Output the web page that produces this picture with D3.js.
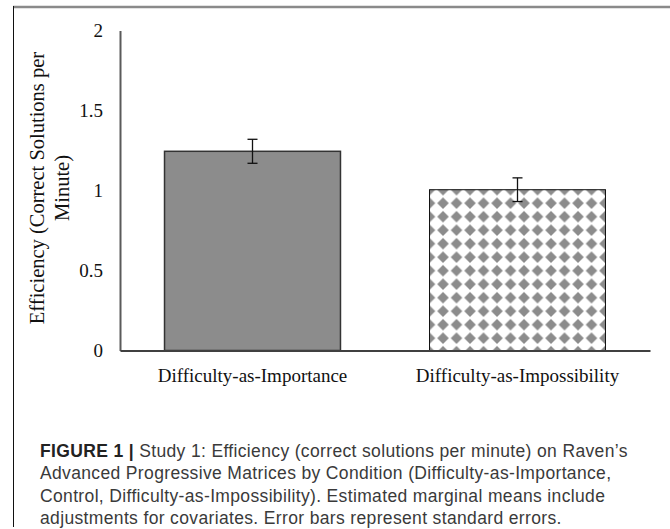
<!DOCTYPE html>
<html>
<head>
<meta charset="utf-8">
<script src="https://cdn.jsdelivr.net/npm/d3@7"></script>
<style>
  html, body { margin: 0; padding: 0; background: #fff; }
  svg { display: block; }
</style>
</head>
<body>
<svg id="chart" width="670" height="529"></svg>
<script>
// Chart data
var categories = ["Difficulty-as-Importance", "Difficulty-as-Impossibility"];
var means = [1.245, 1.005];
var stdErrors = [0.075, 0.074];
var yTicks = [0, 0.5, 1, 1.5, 2];
var yTitle = ["Efficiency (Correct Solutions per", "Minute)"];
var captionLines = [
    "Study 1: Efficiency (correct solutions per minute) on Raven\u2019s",
    "Advanced Progressive Matrices by Condition (Difficulty-as-Importance,",
    "Control, Difficulty-as-Impossibility). Estimated marginal means include",
    "adjustments for covariates. Error bars represent standard errors."
];

var svg = d3.select("#chart");
var serif = "'Liberation Serif', 'Times New Roman', serif";
var sans = "'Liberation Sans', Arial, Helvetica, sans-serif";
var barGray = "#8c8c8c";

// Frame: gray rule on top, thin line on the left
svg.append("line")
    .attr("x1", 13).attr("x2", 670)
    .attr("y1", 7).attr("y2", 7)
    .style("stroke", "#8a8a8a").attr("stroke-width", 2.5);
svg.append("line")
    .attr("x1", 13.5).attr("x2", 13.5)
    .attr("y1", 6).attr("y2", 527)
    .style("stroke", "#111").attr("stroke-width", 1);

// Scales
var x = d3.scaleBand()
    .domain(categories)
    .range([120, 650])
    .paddingInner(0.336)
    .paddingOuter(0.168);

var y = d3.scaleLinear()
    .domain([0, 2])
    .range([350.5, 30.5]);

var rows = categories.map(function (c, i) {
    return { cat: c, mean: means[i], se: stdErrors[i], i: i };
});

// Diamond pattern for second bar
var defs = svg.append("defs");
var cell = 13.5;
var pat = defs.append("pattern")
    .attr("id", "diamonds")
    .attr("patternUnits", "userSpaceOnUse")
    .attr("width", cell).attr("height", cell)
    .attr("x", x(categories[1]))
    .attr("y", y(means[1]));
pat.append("rect")
    .attr("width", cell).attr("height", cell)
    .attr("fill", "#fff");
var h = 5.8;
[[0, 0], [cell, 0], [0, cell], [cell, cell]].forEach(function (p) {
    pat.append("path")
        .attr("d", "M" + p[0] + "," + (p[1] - h) + "L" + (p[0] + h) + "," + p[1] +
                   "L" + p[0] + "," + (p[1] + h) + "L" + (p[0] - h) + "," + p[1] + "Z")
        .attr("fill", barGray);
});

// Bars
svg.append("g").attr("class", "bars")
    .selectAll("rect")
    .data(rows)
    .enter()
    .append("rect")
    .attr("x", function (d) { return x(d.cat); })
    .attr("y", function (d) { return y(d.mean); })
    .attr("width", x.bandwidth())
    .attr("height", function (d) { return y(0) - y(d.mean); })
    .attr("fill", function (d) { return d.i === 0 ? barGray : "url(#diamonds)"; })
    .style("stroke", function (d) { return d.i === 0 ? "#333" : "#111"; })
    .attr("stroke-width", function (d) { return d.i === 0 ? 1.5 : 1; });

// Error bars
var err = svg.append("g").attr("class", "errors")
    .selectAll("g")
    .data(rows)
    .enter()
    .append("g")
    .style("stroke", "#111")
    .attr("stroke-width", 1.3);

err.append("line")
    .attr("x1", function (d) { return x(d.cat) + x.bandwidth() / 2; })
    .attr("x2", function (d) { return x(d.cat) + x.bandwidth() / 2; })
    .attr("y1", function (d) { return y(d.mean + d.se); })
    .attr("y2", function (d) { return y(d.mean - d.se); });

[1, -1].forEach(function (s) {
    err.append("line")
        .attr("x1", function (d) { return x(d.cat) + x.bandwidth() / 2 - 5; })
        .attr("x2", function (d) { return x(d.cat) + x.bandwidth() / 2 + 5; })
        .attr("y1", function (d) { return y(d.mean + s * d.se); })
        .attr("y2", function (d) { return y(d.mean + s * d.se); });
});

// Y axis
var yAxis = svg.append("g")
    .attr("transform", "translate(120,0)")
    .call(d3.axisLeft(y).tickValues(yTicks).tickFormat(String)
        .tickSize(0).tickPadding(17));
yAxis.select(".domain").style("stroke", "#5a5a5a").attr("stroke-width", 2);
yAxis.selectAll("text")
    .style("font-family", serif)
    .style("font-size", "19px")
    .style("fill", "#111");

// X axis
var xAxis = svg.append("g")
    .attr("transform", "translate(0," + y(0) + ")")
    .call(d3.axisBottom(x).tickSize(0).tickPadding(18));
xAxis.select(".domain").style("stroke", "#404040").attr("stroke-width", 2);
xAxis.selectAll("text")
    .style("font-family", serif)
    .style("font-size", "19px")
    .style("fill", "#111");

// Y axis title (two lines)
svg.append("g")
    .attr("transform", "translate(0,188) rotate(-90)")
    .selectAll("text")
    .data(yTitle)
    .enter()
    .append("text")
    .attr("x", 0)
    .attr("y", function (d, i) { return 44 + i * 25; })
    .attr("text-anchor", "middle")
    .style("font-family", serif)
    .style("font-size", "20.5px")
    .style("fill", "#111")
    .text(function (d) { return d; });

// Caption
var cap = svg.append("g")
    .style("font-family", sans)
    .style("font-size", "17.5px")
    .style("letter-spacing", "0.35px")
    .style("fill", "#3a3a3a");

var first = cap.append("text")
    .attr("x", 40)
    .attr("y", 457);
first.append("tspan")
    .style("font-weight", "bold")
    .style("fill", "#222")
    .text("FIGURE 1 | ");
first.append("tspan").text(captionLines[0]);

cap.selectAll("text.rest")
    .data(captionLines.slice(1))
    .enter()
    .append("text")
    .attr("class", "rest")
    .attr("x", 40)
    .attr("y", function (d, i) { return 457 + (i + 1) * 22.3; })
    .text(function (d) { return d; });
</script>
</body>
</html>
